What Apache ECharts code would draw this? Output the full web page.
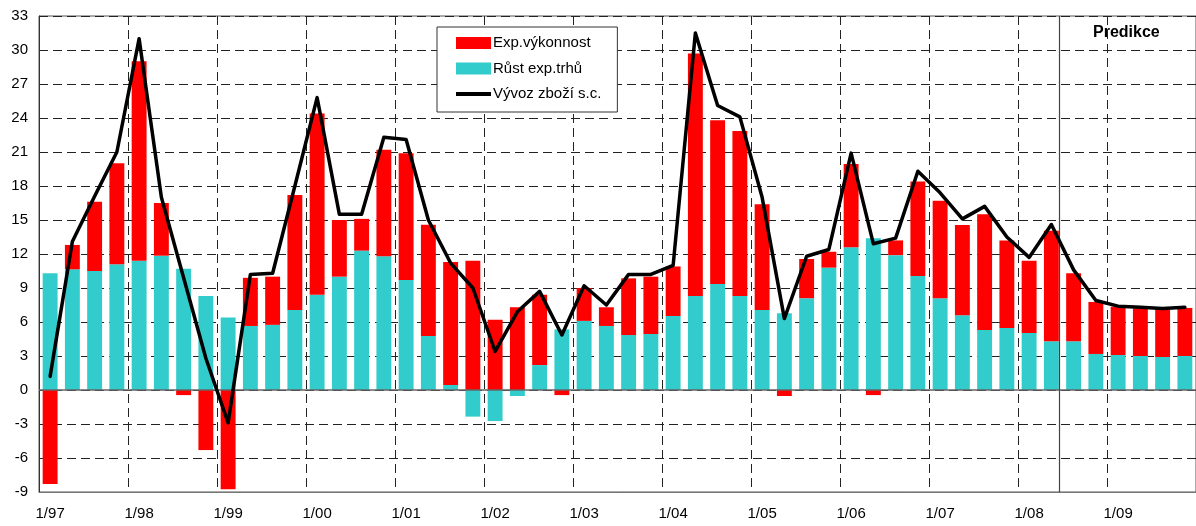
<!DOCTYPE html>
<html>
<head>
<meta charset="utf-8">
<script src="https://cdn.jsdelivr.net/npm/echarts@6/dist/echarts.min.js"></script>
<style>
html,body{margin:0;padding:0;background:#fff;}
#c{width:1196px;height:526px;}
</style>
</head>
<body>
<div id="c"></div>
<script>
const categories = [
  '1/97','2/97','3/97','4/97','1/98','2/98','3/98','4/98','1/99','2/99','3/99','4/99',
  '1/00','2/00','3/00','4/00','1/01','2/01','3/01','4/01','1/02','2/02','3/02','4/02',
  '1/03','2/03','3/03','4/03','1/04','2/04','3/04','4/04','1/05','2/05','3/05','4/05',
  '1/06','2/06','3/06','4/06','1/07','2/07','3/07','4/07','1/08','2/08','3/08','4/08',
  '1/09','2/09','3/09','4/09'
];
const rustTrhu = [
  10.3, 10.65, 10.5, 11.1, 11.4, 11.85, 10.7, 8.3, 6.4, 5.65,
  5.75, 7.05, 8.4, 10.0, 12.3, 11.8, 9.7, 4.77, 0.44, -2.35,
  -2.74, -0.53, 2.2, 5.35, 6.1, 5.65, 4.85, 4.94, 6.53, 8.3,
  9.35, 8.3, 7.06, 6.77, 8.1, 10.8, 12.6, 13.4, 11.9, 10.06,
  8.1, 6.6, 5.3, 5.47, 5.03, 4.3, 4.3, 3.18, 3.09, 3.0,
  2.91, 3.0
];
const expVykonnost = [
  -8.3, 2.15, 6.1, 8.9, 17.6, 4.65, -0.45, -5.3, -8.75, 4.25,
  4.25, 10.15, 16.0, 5.0, 2.8, 9.4, 11.2, 9.8, 10.86, 11.4,
  6.2, 7.3, 6.2, -0.45, 2.9, 1.65, 5.0, 5.06, 4.37, 21.4,
  14.45, 14.56, 9.34, -0.53, 3.46, 1.4, 7.35, -0.45, 1.3, 8.34,
  8.6, 7.96, 10.2, 7.73, 6.37, 9.76, 6.0, 4.59, 4.26, 4.2,
  4.21, 4.24
];
const vyvozZbozi = [
  1.2, 13.1, 17.1, 21.0, 31.0, 17.0, 9.9, 2.8, -2.9, 10.2,
  10.3, 18.0, 25.8, 15.5, 15.5, 22.3, 22.1, 15.0, 11.2, 9.0,
  3.4, 6.9, 8.7, 4.85, 9.2, 7.5, 10.2, 10.2, 11.0, 31.5,
  25.1, 24.1, 17.0, 6.3, 11.8, 12.4, 20.9, 12.9, 13.4, 19.3,
  17.4, 15.1, 16.2, 13.5, 11.7, 14.6, 10.6, 7.9, 7.4, 7.3,
  7.2, 7.3
];
const predictionStart = 45.85; // position in quarters from the left edge
const predictionLabel = 'Predikce';

const FONT = 'Liberation Sans, Arial, sans-serif';
const chart = echarts.init(document.getElementById('c'), null, {renderer: 'canvas'});
const dash = [9, 5];

chart.setOption({
  animation: false,
  backgroundColor: '#fff',
  textStyle: {fontFamily: FONT},
  grid: {left: 39, top: 16, right: -2, bottom: 34, show: true, borderColor: '#555', borderWidth: 1},
  legend: {
    data: [
      {name: 'Exp.výkonnost', icon: 'rect'},
      {name: 'Růst exp.trhů', icon: 'rect'},
      {name: 'Vývoz zboží s.c.', icon: 'path://M0,0H35V4H0Z'}
    ],
    orient: 'vertical',
    left: 437, top: 27,
    padding: [7, 16, 9, 19],
    itemWidth: 35, itemHeight: 12, itemGap: 7.5,
    symbolKeepAspect: true,
    backgroundColor: '#fff',
    borderColor: '#333', borderWidth: 1,
    textStyle: {fontFamily: FONT, fontSize: 15, color: '#000', lineHeight: 18, padding: [0, 0, 0, -3]}
  },
  xAxis: [{
    type: 'category',
    data: categories,
    boundaryGap: true,
    axisLine: {onZero: false, lineStyle: {color: '#777', width: 1}},
    axisTick: {show: false},
    axisLabel: {interval: 3, margin: 14, fontSize: 15, color: '#000', fontFamily: FONT},
    splitLine: {show: true, interval: 3, lineStyle: {color: '#222', type: dash, width: 1}}
  }, {
    type: 'value', min: 0, max: 52, show: false
  }],
  yAxis: {
    type: 'value', min: -9, max: 33, interval: 3,
    axisLine: {show: true, lineStyle: {color: '#333', width: 1}},
    axisTick: {show: false},
    axisLabel: {margin: 11, fontSize: 15, color: '#000', fontFamily: FONT},
    splitLine: {show: true, lineStyle: {color: '#222', type: dash, width: 1}}
  },
  series: [{
    name: 'Růst exp.trhů', type: 'bar', stack: 'a', data: rustTrhu,
    barCategoryGap: '33%', itemStyle: {color: '#33CCCC'},
    markLine: {
      silent: true, symbol: 'none', label: {show: false},
      lineStyle: {color: '#666', type: 'solid', width: 1.5},
      data: [{yAxis: 0}]
    }
  }, {
    name: 'Exp.výkonnost', type: 'bar', stack: 'a', data: expVykonnost,
    barCategoryGap: '33%', itemStyle: {color: '#FF0000'}
  }, {
    name: 'Vývoz zboží s.c.', type: 'line', data: vyvozZbozi,
    symbol: 'none', showSymbol: false, z: 5,
    lineStyle: {color: '#000', width: 3.5, join: 'round', cap: 'round'},
    itemStyle: {color: '#000'}
  }, {
    name: 'pred', type: 'line', xAxisIndex: 1, data: [[predictionStart, null]],
    symbol: 'none', silent: true,
    markLine: {
      silent: true, symbol: 'none',
      lineStyle: {color: '#444', type: 'solid', width: 1.2},
      label: {show: false},
      data: [{xAxis: predictionStart}]
    }
  }],
  graphic: [{
    type: 'text', left: 1093, top: 25,
    style: {text: predictionLabel, fontFamily: FONT, fontWeight: 'bold', fontSize: 16, fill: '#000'}
  }]
});
</script>
</body>
</html>
